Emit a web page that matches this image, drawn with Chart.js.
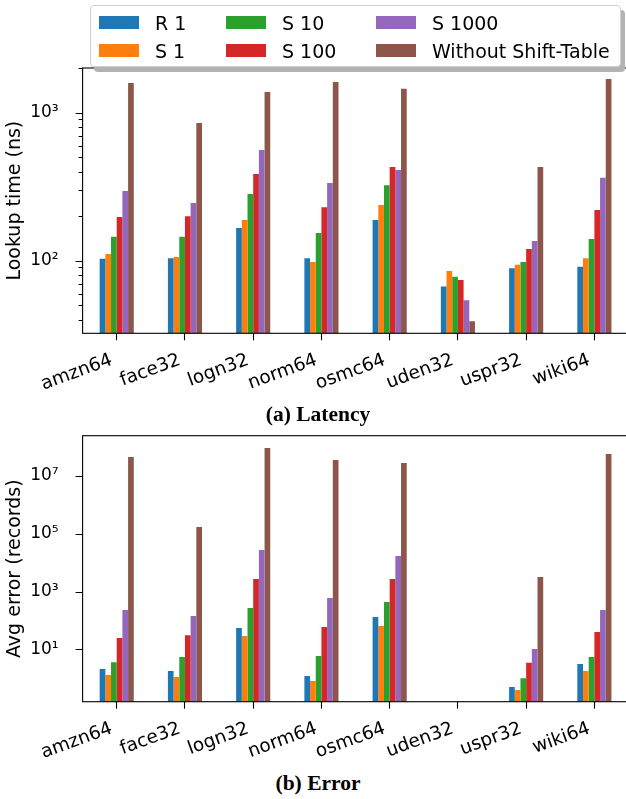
<!DOCTYPE html>
<html>
<head>
<meta charset="utf-8">
<script src="https://cdn.jsdelivr.net/npm/chart.js@4.4.1/dist/chart.umd.min.js"></script>
<style>
html, body { margin: 0; padding: 0; background: #fff; overflow: hidden; }
#wrap { position: relative; width: 626px; height: 799px; overflow: hidden; }
canvas { position: absolute; left: 0; }
#latency { top: 0; }
#error { top: 400px; }
.caption { position: absolute; left: 0; width: 636px; text-align: center; font-family: 'Liberation Serif', serif; font-weight: bold; font-size: 21.5px; line-height: 20px; color: #000; }
#legend { position: absolute; left: 90px; top: 5px; width: 531px; height: 62px; box-sizing: border-box; border: 1px solid #cfcfcf; border-radius: 4px; background: #fff; box-shadow: 4px 5px 0 #b3b3b3; z-index: 2; font-family: 'DejaVu Sans', sans-serif; font-size: 19px; line-height: 19px; }
#legend .box { position: absolute; width: 40px; height: 13px; }
#legend .txt { position: absolute; white-space: nowrap; color: #000; }
</style>
</head>
<body>
<div id="wrap">
  <canvas id="latency" width="640" height="400"></canvas>
  <canvas id="error" width="640" height="370"></canvas>
  <div id="legend"></div>
  <div class="caption" style="top:403.7px">(a) Latency</div>
  <div class="caption" style="top:772.7px">(b) Error</div>
</div>
<script>
// datasets and series
const categories = ['amzn64', 'face32', 'logn32', 'norm64', 'osmc64', 'uden32', 'uspr32', 'wiki64'];
const seriesNames = ['R 1', 'S 1', 'S 10', 'S 100', 'S 1000', 'Without Shift-Table'];
const seriesColors = ['#1f77b4', '#ff7f0e', '#2ca02c', '#d62728', '#9467bd', '#8c564b'];

// lookup time (ns)
const latR1 = [103, 104, 166, 104, 188, 67, 89, 91];
const latS1 = [111, 106, 188, 98, 238, 85, 94, 104];
const latS10 = [145, 145, 282, 154, 324, 78, 98, 140];
const latS100 = [197, 200, 385, 230, 430, 74, 120, 220];
const latS1000 = [296, 245, 560, 335, 410, 54, 136, 363];
const latNoShift = [1587, 851, 1380, 1612, 1450, 39, 430, 1690];

// avg error (records), uden32 has no bars
const errR1 = [2.1, 1.77, 55, 1.19, 131, null, 0.5, 3.1];
const errS1 = [1.29, 1.1, 29, 0.8, 64, null, 0.39, 1.77];
const errS10 = [3.6, 5.4, 268, 5.9, 434, null, 1.0, 5.4];
const errS100 = [24.6, 31, 2710, 59, 2710, null, 3.4, 40];
const errS1000 = [229, 142, 27300, 596, 16900, null, 10.2, 229];
const errNoShift = [4.5e7, 1.7e5, 9.3e7, 3.6e7, 2.8e7, null, 3180, 5.8e7];

// tick labels
const latMajorTicks = [100, 1000];
const latTickLabels = ['10\u00b2', '10\u00b3'];
const latMinorTicks = [40, 50, 60, 70, 80, 90, 200, 300, 400, 500, 600, 700, 800, 900, 2000];
const errMajorTicks = [10, 1000, 100000, 10000000];
const errTickLabels = ['10\u00b9', '10\u00b3', '10\u2075', '10\u2077'];
const errMinorTicks = [];

// legend, three columns filled column by column
const legend = document.getElementById('legend');
seriesNames.forEach(function (name, i) {
  const col = Math.floor(i / 2), row = i % 2;
  const colX = [8, 135, 285][col];
  const textX = [64, 191, 341][col];
  const box = document.createElement('div');
  box.className = 'box';
  box.style.left = colX + 'px';
  box.style.top = (10 + row * 28) + 'px';
  box.style.background = seriesColors[i];
  legend.appendChild(box);
  const t = document.createElement('span');
  t.className = 'txt';
  t.textContent = name;
  t.style.left = textX + 'px';
  t.style.top = (8 + row * 27.7) + 'px';
  legend.appendChild(t);
});

// frame + y tick marks
const framePlugin = {
  id: 'frame',
  afterDraw(chart, args, o) {
    const ctx = chart.ctx, a = chart.chartArea, y = chart.scales.y;
    ctx.save();
    ctx.strokeStyle = '#000';
    ctx.lineWidth = 1.1;
    ctx.strokeRect(a.left, a.top, a.right - a.left, a.bottom - a.top);
    ctx.beginPath();
    o.major.forEach(function (v) {
      const p = Math.round(y.getPixelForValue(v)) + 0.5;
      ctx.moveTo(a.left - 7, p); ctx.lineTo(a.left, p);
    });
    o.minor.forEach(function (v) {
      const p = Math.round(y.getPixelForValue(v)) + 0.5;
      ctx.moveTo(a.left - 4, p); ctx.lineTo(a.left, p);
    });
    ctx.stroke();
    ctx.restore();
  }
};

function makeChart(id, series, cfg) {
  const canvas = document.getElementById(id);
  const H = canvas.height;
  return new Chart(canvas.getContext('2d'), {
    type: 'bar',
    data: {
      labels: categories,
      datasets: series.map(function (d, i) {
        return {
          label: seriesNames[i],
          data: d,
          backgroundColor: seriesColors[i],
          borderWidth: 0,
          categoryPercentage: 0.5,
          barPercentage: 1
        };
      })
    },
    options: {
      responsive: false,
      animation: false,
      layout: { padding: { left: 0, right: 11.5, top: cfg.top, bottom: 0 } },
      plugins: {
        legend: { display: false },
        tooltip: { enabled: false },
        frame: { major: cfg.major, minor: cfg.minor }
      },
      scales: {
        x: {
          type: 'category',
          grid: { display: true, drawOnChartArea: false, offset: false, tickLength: 7, tickColor: '#000', tickWidth: 1.1 },
          border: { display: false },
          ticks: {
            autoSkip: false, minRotation: 20, maxRotation: 20,
            padding: 9, labelOffset: -5,
            color: '#000',
            font: { family: 'DejaVu Sans', size: 18.5 }
          },
          afterFit: function (s) { s.height = H - cfg.bottom; }
        },
        y: {
          type: 'logarithmic',
          min: cfg.min,
          max: cfg.max,
          grid: { display: false },
          border: { display: false },
          title: {
            display: true, text: cfg.title, color: '#000',
            font: { family: 'DejaVu Sans', size: 19 },
            padding: { top: 4, bottom: 0 }
          },
          ticks: {
            autoSkip: false, padding: 16, color: '#000',
            font: { family: 'DejaVu Sans', size: 17 },
            callback: function (v) {
              const k = cfg.major.indexOf(v);
              return k >= 0 ? cfg.labels[k] : '';
            }
          },
          afterBuildTicks: function (s) {
            s.ticks = cfg.major.map(function (v) { return { value: v }; });
          },
          afterFit: function (s) { s.width = 82.6; }
        }
      }
    },
    plugins: [framePlugin]
  });
}

makeChart('latency', [latR1, latS1, latS10, latS100, latS1000, latNoShift], {
  top: 68, bottom: 333.3, min: 32.3, max: 2005,
  major: latMajorTicks, labels: latTickLabels, minor: latMinorTicks,
  title: 'Lookup time (ns)'
});

makeChart('error', [errR1, errS1, errS10, errS100, errS1000, errNoShift], {
  top: 35.7, bottom: 301.7, min: 0.154, max: 2.48e8,
  major: errMajorTicks, labels: errTickLabels, minor: errMinorTicks,
  title: 'Avg error (records)'
});
</script>
</body>
</html>
